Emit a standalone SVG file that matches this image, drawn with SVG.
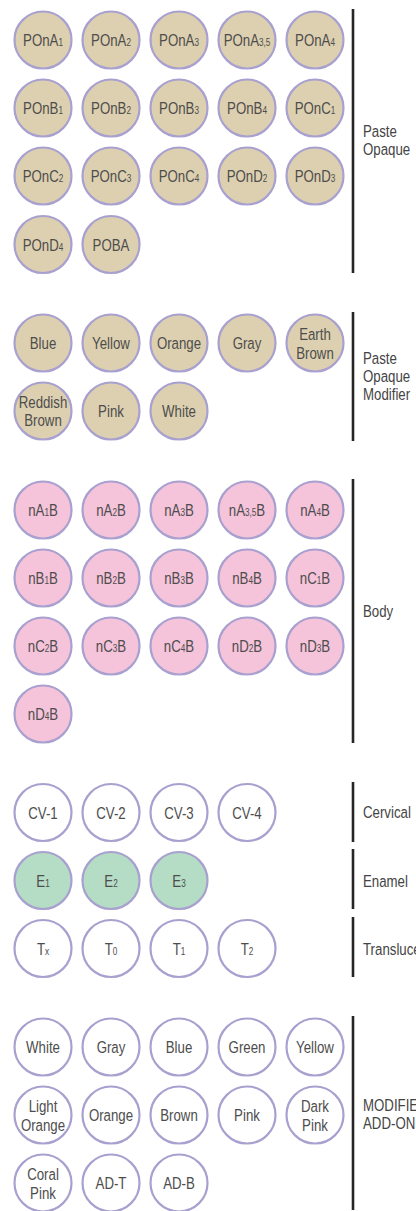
<svg xmlns="http://www.w3.org/2000/svg" width="416" height="1211" viewBox="0 0 416 1211">
<style>
.c{stroke:#a8a0cf;stroke-width:2.2}
.tan{fill:#ddd0b0}.pink{fill:#f5c3da}.grn{fill:#b5dcc4}.wht{fill:#fff}
text{font-family:"Liberation Sans",Arial,sans-serif;font-size:17px;fill:#4d4d4d;text-anchor:middle}
.s{font-size:10.5px}
.lbl{text-anchor:start;fill:#444}
.bar{stroke:#262626;stroke-width:2.6;fill:none}
</style>
<rect width="416" height="1211" fill="#fff"/>
<g id="connectors">
<line class="bar" x1="353" y1="9" x2="353" y2="273"/>
<line class="bar" x1="353" y1="312" x2="353" y2="441"/>
<line class="bar" x1="353" y1="479" x2="353" y2="743"/>
<line class="bar" x1="353" y1="782" x2="353" y2="842"/>
<line class="bar" x1="353" y1="849" x2="353" y2="909"/>
<line class="bar" x1="353" y1="917" x2="353" y2="977"/>
<line class="bar" x1="353" y1="1016" x2="353" y2="1210"/>
</g>
<g id="labels">
<text class="lbl" transform="translate(363 137) scale(.78 1)"><tspan x="0">Paste</tspan><tspan x="0" dy="18">Opaque</tspan></text>
<text class="lbl" transform="translate(363 364) scale(.78 1)"><tspan x="0">Paste</tspan><tspan x="0" dy="18">Opaque</tspan><tspan x="0" dy="18">Modifier</tspan></text>
<text class="lbl" transform="translate(363 617) scale(.78 1)">Body</text>
<text class="lbl" transform="translate(363 818) scale(.78 1)">Cervical</text>
<text class="lbl" transform="translate(363 887) scale(.78 1)">Enamel</text>
<text class="lbl" transform="translate(363 955) scale(.78 1)">Translucent</text>
<text class="lbl" transform="translate(363 1111) scale(.78 1)"><tspan x="0">MODIFIER</tspan><tspan x="0" dy="18">ADD-ON</tspan></text>
</g>
<!-- Paste Opaque -->
<g id="POnA1"><circle class="c tan" cx="43" cy="40" r="28.5"/><text transform="translate(43 46) scale(.78 1)">POnA<tspan class="s">1</tspan></text></g>
<g id="POnA2"><circle class="c tan" cx="111" cy="40" r="28.5"/><text transform="translate(111 46) scale(.78 1)">POnA<tspan class="s">2</tspan></text></g>
<g id="POnA3"><circle class="c tan" cx="179" cy="40" r="28.5"/><text transform="translate(179 46) scale(.78 1)">POnA<tspan class="s">3</tspan></text></g>
<g id="POnA35"><circle class="c tan" cx="247" cy="40" r="28.5"/><text transform="translate(247 46) scale(.78 1)">POnA<tspan class="s">3,5</tspan></text></g>
<g id="POnA4"><circle class="c tan" cx="315" cy="40" r="28.5"/><text transform="translate(315 46) scale(.78 1)">POnA<tspan class="s">4</tspan></text></g>
<g id="POnB1"><circle class="c tan" cx="43" cy="108" r="28.5"/><text transform="translate(43 114) scale(.78 1)">POnB<tspan class="s">1</tspan></text></g>
<g id="POnB2"><circle class="c tan" cx="111" cy="108" r="28.5"/><text transform="translate(111 114) scale(.78 1)">POnB<tspan class="s">2</tspan></text></g>
<g id="POnB3"><circle class="c tan" cx="179" cy="108" r="28.5"/><text transform="translate(179 114) scale(.78 1)">POnB<tspan class="s">3</tspan></text></g>
<g id="POnB4"><circle class="c tan" cx="247" cy="108" r="28.5"/><text transform="translate(247 114) scale(.78 1)">POnB<tspan class="s">4</tspan></text></g>
<g id="POnC1"><circle class="c tan" cx="315" cy="108" r="28.5"/><text transform="translate(315 114) scale(.78 1)">POnC<tspan class="s">1</tspan></text></g>
<g id="POnC2"><circle class="c tan" cx="43" cy="176" r="28.5"/><text transform="translate(43 182) scale(.78 1)">POnC<tspan class="s">2</tspan></text></g>
<g id="POnC3"><circle class="c tan" cx="111" cy="176" r="28.5"/><text transform="translate(111 182) scale(.78 1)">POnC<tspan class="s">3</tspan></text></g>
<g id="POnC4"><circle class="c tan" cx="179" cy="176" r="28.5"/><text transform="translate(179 182) scale(.78 1)">POnC<tspan class="s">4</tspan></text></g>
<g id="POnD2"><circle class="c tan" cx="247" cy="176" r="28.5"/><text transform="translate(247 182) scale(.78 1)">POnD<tspan class="s">2</tspan></text></g>
<g id="POnD3"><circle class="c tan" cx="315" cy="176" r="28.5"/><text transform="translate(315 182) scale(.78 1)">POnD<tspan class="s">3</tspan></text></g>
<g id="POnD4"><circle class="c tan" cx="43" cy="244.5" r="28.5"/><text transform="translate(43 250.5) scale(.78 1)">POnD<tspan class="s">4</tspan></text></g>
<g id="POBA"><circle class="c tan" cx="111" cy="244.5" r="28.5"/><text transform="translate(111 250.5) scale(.78 1)">POBA</text></g>
<!-- Paste Opaque Modifier -->
<g id="pom-blue"><circle class="c tan" cx="43" cy="343" r="28.5"/><text transform="translate(43 349) scale(.78 1)">Blue</text></g>
<g id="pom-yellow"><circle class="c tan" cx="111" cy="343" r="28.5"/><text transform="translate(111 349) scale(.78 1)">Yellow</text></g>
<g id="pom-orange"><circle class="c tan" cx="179" cy="343" r="28.5"/><text transform="translate(179 349) scale(.78 1)">Orange</text></g>
<g id="pom-gray"><circle class="c tan" cx="247" cy="343" r="28.5"/><text transform="translate(247 349) scale(.78 1)">Gray</text></g>
<g id="pom-earth"><circle class="c tan" cx="315" cy="343" r="28.5"/><text transform="translate(315 340) scale(.78 1)"><tspan x="0">Earth</tspan><tspan x="0" dy="19">Brown</tspan></text></g>
<g id="pom-reddish"><circle class="c tan" cx="43" cy="411" r="28.5"/><text transform="translate(43 408) scale(.78 1)"><tspan x="0">Reddish</tspan><tspan x="0" dy="18.5">Brown</tspan></text></g>
<g id="pom-pink"><circle class="c tan" cx="111" cy="411" r="28.5"/><text transform="translate(111 417) scale(.78 1)">Pink</text></g>
<g id="pom-white"><circle class="c tan" cx="179" cy="411" r="28.5"/><text transform="translate(179 417) scale(.78 1)">White</text></g>
<!-- Body -->
<g id="nA1B"><circle class="c pink" cx="43" cy="510" r="28.5"/><text transform="translate(43 516) scale(.78 1)">nA<tspan class="s">1</tspan>B</text></g>
<g id="nA2B"><circle class="c pink" cx="111" cy="510" r="28.5"/><text transform="translate(111 516) scale(.78 1)">nA<tspan class="s">2</tspan>B</text></g>
<g id="nA3B"><circle class="c pink" cx="179" cy="510" r="28.5"/><text transform="translate(179 516) scale(.78 1)">nA<tspan class="s">3</tspan>B</text></g>
<g id="nA35B"><circle class="c pink" cx="247" cy="510" r="28.5"/><text transform="translate(247 516) scale(.78 1)">nA<tspan class="s">3,5</tspan>B</text></g>
<g id="nA4B"><circle class="c pink" cx="315" cy="510" r="28.5"/><text transform="translate(315 516) scale(.78 1)">nA<tspan class="s">4</tspan>B</text></g>
<g id="nB1B"><circle class="c pink" cx="43" cy="578" r="28.5"/><text transform="translate(43 584) scale(.78 1)">nB<tspan class="s">1</tspan>B</text></g>
<g id="nB2B"><circle class="c pink" cx="111" cy="578" r="28.5"/><text transform="translate(111 584) scale(.78 1)">nB<tspan class="s">2</tspan>B</text></g>
<g id="nB3B"><circle class="c pink" cx="179" cy="578" r="28.5"/><text transform="translate(179 584) scale(.78 1)">nB<tspan class="s">3</tspan>B</text></g>
<g id="nB4B"><circle class="c pink" cx="247" cy="578" r="28.5"/><text transform="translate(247 584) scale(.78 1)">nB<tspan class="s">4</tspan>B</text></g>
<g id="nC1B"><circle class="c pink" cx="315" cy="578" r="28.5"/><text transform="translate(315 584) scale(.78 1)">nC<tspan class="s">1</tspan>B</text></g>
<g id="nC2B"><circle class="c pink" cx="43" cy="646" r="28.5"/><text transform="translate(43 652) scale(.78 1)">nC<tspan class="s">2</tspan>B</text></g>
<g id="nC3B"><circle class="c pink" cx="111" cy="646" r="28.5"/><text transform="translate(111 652) scale(.78 1)">nC<tspan class="s">3</tspan>B</text></g>
<g id="nC4B"><circle class="c pink" cx="179" cy="646" r="28.5"/><text transform="translate(179 652) scale(.78 1)">nC<tspan class="s">4</tspan>B</text></g>
<g id="nD2B"><circle class="c pink" cx="247" cy="646" r="28.5"/><text transform="translate(247 652) scale(.78 1)">nD<tspan class="s">2</tspan>B</text></g>
<g id="nD3B"><circle class="c pink" cx="315" cy="646" r="28.5"/><text transform="translate(315 652) scale(.78 1)">nD<tspan class="s">3</tspan>B</text></g>
<g id="nD4B"><circle class="c pink" cx="43" cy="714" r="28.5"/><text transform="translate(43 720) scale(.78 1)">nD<tspan class="s">4</tspan>B</text></g>
<!-- Cervical -->
<g id="CV-1"><circle class="c wht" cx="43" cy="812.5" r="28.5"/><text transform="translate(43 818.5) scale(.78 1)">CV-1</text></g>
<g id="CV-2"><circle class="c wht" cx="111" cy="812.5" r="28.5"/><text transform="translate(111 818.5) scale(.78 1)">CV-2</text></g>
<g id="CV-3"><circle class="c wht" cx="179" cy="812.5" r="28.5"/><text transform="translate(179 818.5) scale(.78 1)">CV-3</text></g>
<g id="CV-4"><circle class="c wht" cx="247" cy="812.5" r="28.5"/><text transform="translate(247 818.5) scale(.78 1)">CV-4</text></g>
<!-- Enamel -->
<g id="E1"><circle class="c grn" cx="43" cy="880.5" r="28.5"/><text transform="translate(43 886.5) scale(.78 1)">E<tspan class="s">1</tspan></text></g>
<g id="E2"><circle class="c grn" cx="111" cy="880.5" r="28.5"/><text transform="translate(111 886.5) scale(.78 1)">E<tspan class="s">2</tspan></text></g>
<g id="E3"><circle class="c grn" cx="179" cy="880.5" r="28.5"/><text transform="translate(179 886.5) scale(.78 1)">E<tspan class="s">3</tspan></text></g>
<!-- Translucent -->
<g id="Tx"><circle class="c wht" cx="43" cy="948.5" r="28.5"/><text transform="translate(43 954.5) scale(.78 1)">T<tspan class="s">x</tspan></text></g>
<g id="T0"><circle class="c wht" cx="111" cy="948.5" r="28.5"/><text transform="translate(111 954.5) scale(.78 1)">T<tspan class="s">0</tspan></text></g>
<g id="T1"><circle class="c wht" cx="179" cy="948.5" r="28.5"/><text transform="translate(179 954.5) scale(.78 1)">T<tspan class="s">1</tspan></text></g>
<g id="T2"><circle class="c wht" cx="247" cy="948.5" r="28.5"/><text transform="translate(247 954.5) scale(.78 1)">T<tspan class="s">2</tspan></text></g>
<!-- Modifier Add-on -->
<g id="m-white"><circle class="c wht" cx="43" cy="1047" r="28.5"/><text transform="translate(43 1053) scale(.78 1)">White</text></g>
<g id="m-gray"><circle class="c wht" cx="111" cy="1047" r="28.5"/><text transform="translate(111 1053) scale(.78 1)">Gray</text></g>
<g id="m-blue"><circle class="c wht" cx="179" cy="1047" r="28.5"/><text transform="translate(179 1053) scale(.78 1)">Blue</text></g>
<g id="m-green"><circle class="c wht" cx="247" cy="1047" r="28.5"/><text transform="translate(247 1053) scale(.78 1)">Green</text></g>
<g id="m-yellow"><circle class="c wht" cx="315" cy="1047" r="28.5"/><text transform="translate(315 1053) scale(.78 1)">Yellow</text></g>
<g id="m-lightorange"><circle class="c wht" cx="43" cy="1115" r="28.5"/><text transform="translate(43 1112) scale(.78 1)"><tspan x="0">Light</tspan><tspan x="0" dy="19">Orange</tspan></text></g>
<g id="m-orange"><circle class="c wht" cx="111" cy="1115" r="28.5"/><text transform="translate(111 1121) scale(.78 1)">Orange</text></g>
<g id="m-brown"><circle class="c wht" cx="179" cy="1115" r="28.5"/><text transform="translate(179 1121) scale(.78 1)">Brown</text></g>
<g id="m-pink"><circle class="c wht" cx="247" cy="1115" r="28.5"/><text transform="translate(247 1121) scale(.78 1)">Pink</text></g>
<g id="m-darkpink"><circle class="c wht" cx="315" cy="1115" r="28.5"/><text transform="translate(315 1112) scale(.78 1)"><tspan x="0">Dark</tspan><tspan x="0" dy="19">Pink</tspan></text></g>
<g id="m-coralpink"><circle class="c wht" cx="43" cy="1183" r="28.5"/><text transform="translate(43 1180) scale(.78 1)"><tspan x="0">Coral</tspan><tspan x="0" dy="19">Pink</tspan></text></g>
<g id="m-adt"><circle class="c wht" cx="111" cy="1183" r="28.5"/><text transform="translate(111 1189) scale(.78 1)">AD-T</text></g>
<g id="m-adb"><circle class="c wht" cx="179" cy="1183" r="28.5"/><text transform="translate(179 1189) scale(.78 1)">AD-B</text></g>
</svg>
